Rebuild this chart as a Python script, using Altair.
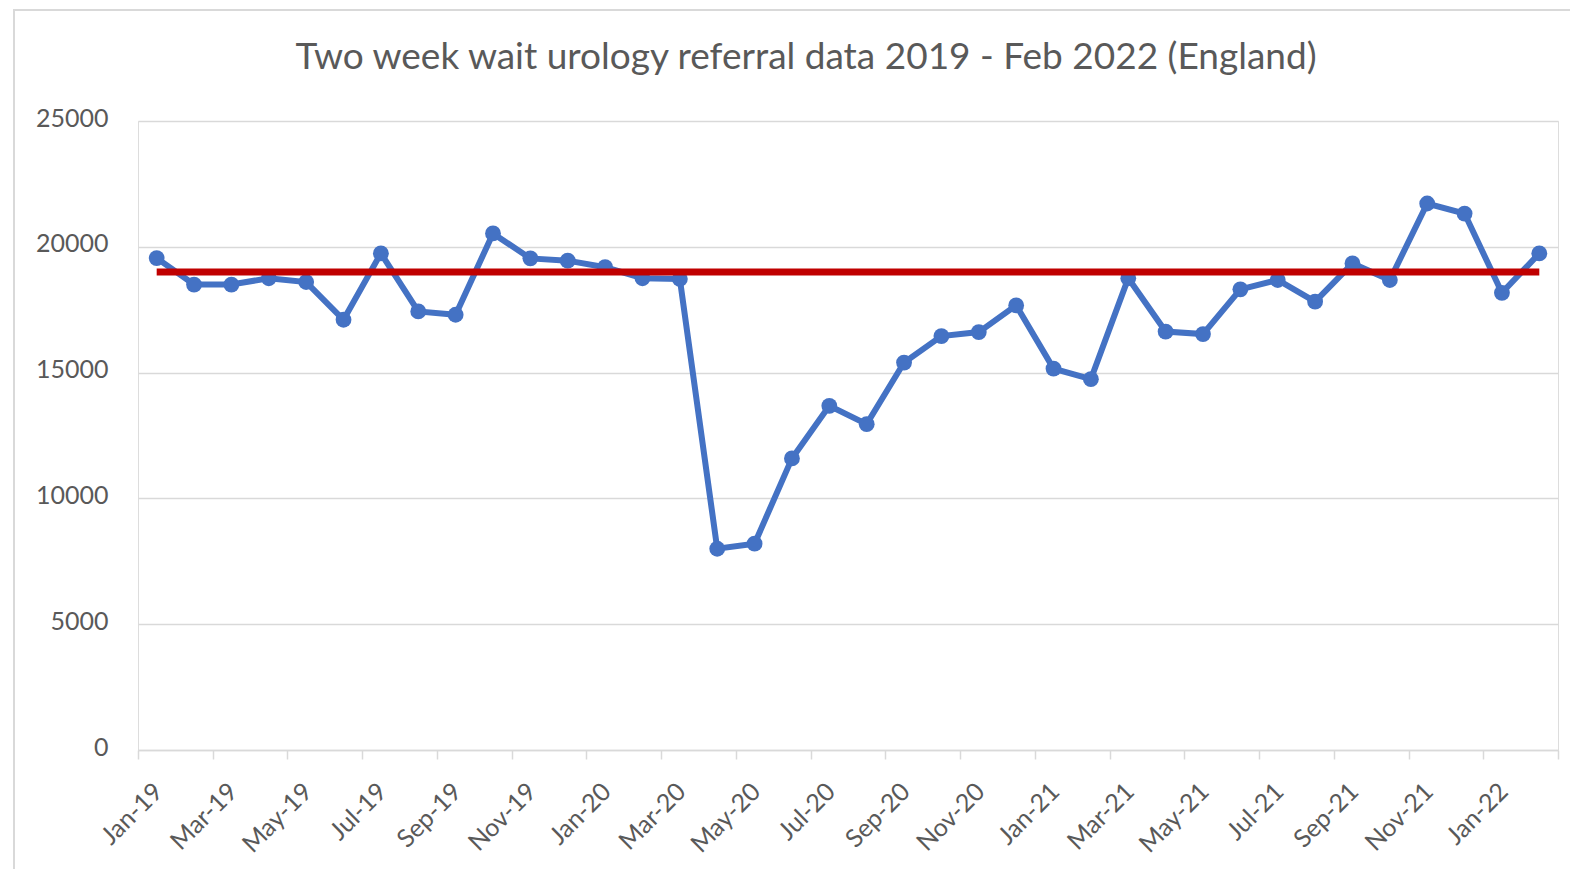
import altair as alt
import pandas as pd

months = ["Jan-19", "Feb-19", "Mar-19", "Apr-19", "May-19", "Jun-19", "Jul-19", "Aug-19",
          "Sep-19", "Oct-19", "Nov-19", "Dec-19",
          "Jan-20", "Feb-20", "Mar-20", "Apr-20", "May-20", "Jun-20", "Jul-20", "Aug-20",
          "Sep-20", "Oct-20", "Nov-20", "Dec-20",
          "Jan-21", "Feb-21", "Mar-21", "Apr-21", "May-21", "Jun-21", "Jul-21", "Aug-21",
          "Sep-21", "Oct-21", "Nov-21", "Dec-21",
          "Jan-22", "Feb-22"]
referrals = [19550, 18500, 18500, 18750, 18600, 17100, 19740, 17430, 17300, 20530, 19540, 19450,
             19190, 18750, 18720, 8000, 8200, 11590, 13680, 12950, 15400, 16450, 16610, 17670,
             15160, 14740, 18750, 16630, 16530, 18310, 18680, 17820, 19340, 18680, 21720, 21320,
             18170, 19740]
target_value = 19000
y_ticks = [0, 5000, 10000, 15000, 20000, 25000]
title_text = "Two week wait urology referral data 2019 - Feb 2022 (England)"

df = pd.DataFrame({
    "idx": list(range(len(months))),
    "month": months,
    "referrals": referrals,
    "target": [target_value] * len(months),
})

tick_vals = [i - 0.5 for i in range(0, len(months) + 1, 2)]
label_names = months[::2] + [""]
label_expr = "[" + ",".join("'" + m + "'" for m in label_names) + "][round((datum.value + 0.5) / 2)]"

GRAY_TEXT = "#595959"
GRID = "#d9d9d9"
FONT = "Lato"

x_enc = alt.X(
    "idx:Q",
    scale=alt.Scale(domain=[-0.5, len(months) - 0.5], nice=False, zero=False),
    axis=alt.Axis(
        values=tick_vals, labelExpr=label_expr, labelAngle=-45, labelAlign="right",
        labelBaseline="middle", labelOffset=20, labelPadding=28, labelOverlap=False,
        labelFlush=False, tickSize=9, tickColor=GRID, tickWidth=1.5, domainColor=GRID,
        domainWidth=1.5, grid=False, labelFont=FONT, labelFontSize=25, labelColor=GRAY_TEXT,
    ),
    title=None,
)

y_axis = alt.Axis(
    values=y_ticks, grid=True, gridColor=GRID, gridWidth=1.5, domain=False, ticks=False,
    labelPadding=30, labelFont=FONT, labelFontSize=25, labelColor=GRAY_TEXT, format="d",
    labelOffset=-3,
)

base = alt.Chart(df)

line = base.mark_line(color="#4472C4", strokeWidth=6).encode(
    x=x_enc,
    y=alt.Y("referrals:Q", scale=alt.Scale(domain=[0, 25000], nice=False), axis=y_axis, title=None),
)
points = base.mark_point(filled=True, color="#4472C4", size=250, opacity=1).encode(
    x=alt.X("idx:Q"), y=alt.Y("referrals:Q"),
)
target = base.mark_line(color="#C00000", strokeWidth=7).encode(
    x=alt.X("idx:Q"), y=alt.Y("target:Q"),
)
border = alt.Chart(pd.DataFrame({"a": [0]})).mark_rect(
    fillOpacity=0, stroke=GRID, strokeWidth=2
).encode(
    x=alt.value(-124), y=alt.value(-111), x2=alt.value(1700), y2=alt.value(900)
)

chart = alt.layer(border, line, points, target).properties(
    width=1420,
    height=629,
    title=alt.TitleParams(
        text=title_text, font=FONT, fontSize=37, fontWeight="normal", color=GRAY_TEXT,
        anchor="middle", frame="group", dx=-42, offset=0, dy=97, baseline="alphabetic",
    ),
    autosize=alt.AutoSizeParams(type="none"),
    padding={"left": 130, "top": 113, "right": 12, "bottom": 119},
).configure_view(stroke=None).configure(background="white")

chart.save("out.html", embed_options={"renderer": "svg", "actions": False})
